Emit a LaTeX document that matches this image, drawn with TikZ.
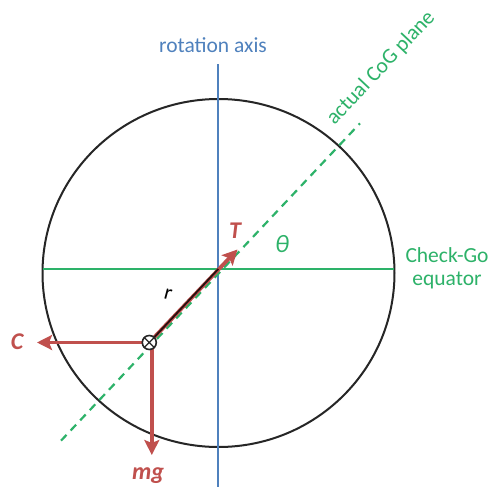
\documentclass[tikz,border=0pt]{standalone}
\usepackage{fontspec}
\setmainfont{Carlito}
\usetikzlibrary{arrows.meta}
\definecolor{axisblue}{RGB}{79,129,189}
\definecolor{eqgreen}{RGB}{45,178,105}
\definecolor{forcered}{RGB}{192,80,77}
\tikzset{
  lbl/.style={inner sep=0pt, font=\fontsize{21.5}{24}\selectfont},
  forcelbl/.style={inner sep=0pt, text=forcered, font=\fontsize{24}{28}\selectfont\bfseries\itshape},
  force/.style={draw=forcered, line width=3.8pt, -{Stealth[length=15pt,width=15pt,inset=3pt]}},
}
\begin{document}
\begin{tikzpicture}[x=1pt,y=-1pt]
\useasboundingbox (0,0) rectangle (491,491);
\fill[white] (0,0) rectangle (491,491);
% circle
\draw[line width=2pt, black!85] (218.5,273) ellipse [x radius=176, y radius=174];
% rotation axis
\coordinate (axtop) at (218.3,64);
\coordinate (axbot) at (218.3,487);
\draw[axisblue, line width=2pt] (axtop) -- (axbot);
\node[lbl, text=axisblue] (rotlbl) at (213,45) {rotation axis};
% equator
\coordinate (eqL) at (42.7,269);
\coordinate (eqR) at (394.3,269);
\draw[eqgreen, line width=2.2pt] (eqL) -- (eqR);
\node[lbl, text=eqgreen, align=center] (eqlbl) at (447,268) {Check-Go\\[-1pt]equator};
% CoG plane
\coordinate (plA) at (61,440.7);
\coordinate (plB) at (360,123.3);
\draw[eqgreen, line width=2.2pt, dash pattern=on 8pt off 6pt] (plA) -- (plB);
\node[lbl, text=eqgreen, rotate=46.7] (pllbl) at (381,68) {actual CoG plane};
\node[lbl, text=eqgreen, font=\fontsize{25}{28}\selectfont\itshape] (theta) at (282,244) {θ};
% centre and CoG
\coordinate (O) at (218.3,269);
\coordinate (CG) at (149.3,342.5);
\coordinate (Ttip) at (237.5,249.5);
\coordinate (Ctip) at (37,342.5);
\coordinate (Mtip) at (151.8,455);
\draw[force] (CG) -- (Ttip);
\draw[black!80!forcered, line width=1.8pt] (CG) -- (O);
\draw[force] (CG) -- (Ctip);
\draw[force] (CG.center) ++(2.5,0) coordinate (CGb) (CGb) -- (Mtip);
\node[draw=black!85, line width=1.6pt, circle, minimum size=14pt, inner sep=0pt, fill=white] (cog) at (CG) {};
\draw[black!85, line width=1.3pt] (cog.45) -- (cog.225) (cog.135) -- (cog.315);
% labels
\node[forcelbl] (Tlbl) at (235,231) {T};
\node[forcelbl] (Clbl) at (17,342) {C};
\node[forcelbl] (mglbl) at (148,476) {mg};
\node[lbl, text=black, rotate=-15] (rlbl) at (168,294) {r};
\end{tikzpicture}
\end{document}
